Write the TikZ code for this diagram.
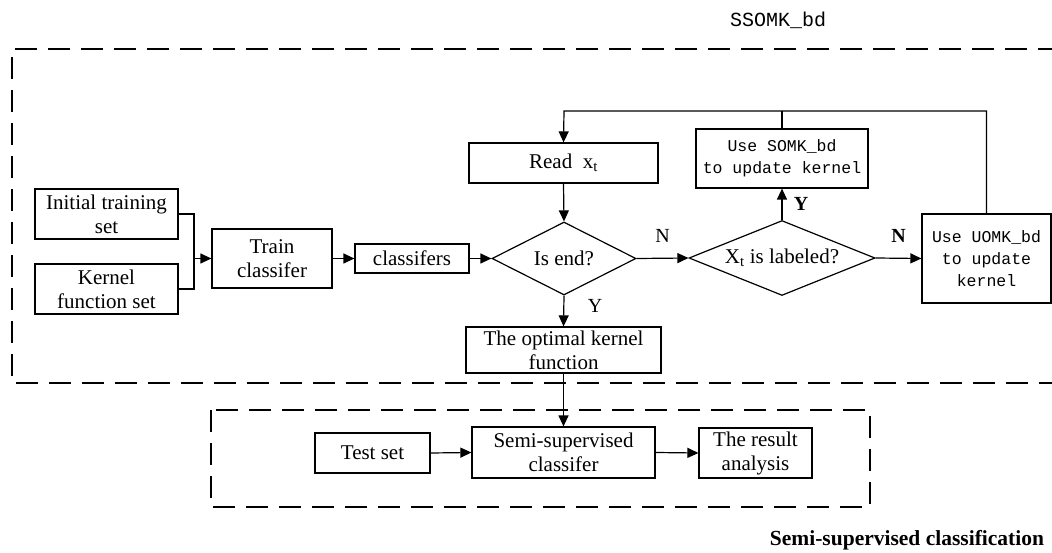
\documentclass[tikz,border=0pt]{standalone}
\usepackage{fontspec}
\setmainfont{Liberation Serif}
\setmonofont{Liberation Mono}
\usetikzlibrary{shapes.geometric,arrows.meta}
\begin{document}
\begin{tikzpicture}[x=1pt,y=-1pt,
  box/.style={draw,line width=1.2pt,inner sep=0pt,align=center,font=\fontsize{21}{24}\selectfont},
  mbox/.style={draw,line width=1.2pt,inner sep=0pt,align=center,font=\ttfamily\fontsize{16.5}{22}\selectfont},
  dia/.style={draw,line width=1.2pt,shape=diamond,inner sep=0pt,aspect=2,font=\fontsize{21}{24}\selectfont},
  conn/.style={line width=1.2pt},
  arr/.style={line width=1.2pt,-{Triangle[length=11pt,width=10pt]}},
  dbox/.style={line width=2.6pt,dash pattern=on 22pt off 11pt},
  lab/.style={font=\fontsize{20}{22}\selectfont},
  blab/.style={font=\bfseries\fontsize{20}{22}\selectfont}]
\useasboundingbox (0,0) rectangle (1052,553);
% dashed frames
\draw[dbox] (1060,49) -- (12,49) -- (12,383) -- (1060,383);
\draw[dbox] (211,410) rectangle (870,507);
\node[font=\ttfamily\fontsize{20}{22}\selectfont] (t1) at (778,20) {SSOMK\_bd};
\node[font=\bfseries\fontsize{21.5}{24}\selectfont] (t2) at (907,540) {Semi-supervised classification};
% nodes
\node[box,minimum width=143pt,minimum height=50pt] (init) at (106.5,214) {Initial training\\set};
\node[box,minimum width=143pt,minimum height=50pt] (kern) at (106.5,289) {Kernel\\function set};
\node[box,minimum width=120pt,minimum height=59pt] (train) at (272,258.5) {Train\\classifer};
\node[box,minimum width=114pt,minimum height=29pt] (cls) at (412,258.5) {classifers};
\node[dia,minimum width=144pt,minimum height=73pt] (isend) at (564,258.5) {Is end?};
\node[box,minimum width=189pt,minimum height=40pt] (read) at (563.5,163) {Read\ \ x\textsubscript{t}};
\node[mbox,minimum width=172pt,minimum height=59pt] (somk) at (782,158.5) {Use SOMK\_bd\\to update kernel};
\node[dia,minimum width=186pt,minimum height=58pt] (xt) at (782,258) {X\textsubscript{t} is labeled?};
\node[mbox,minimum width=129pt,minimum height=89pt] (uomk) at (986.5,258.5) {Use UOMK\_bd\\to update\\kernel};
\node[box,minimum width=195pt,minimum height=46pt] (opt) at (563.5,350) {The optimal kernel\\function};
\node[box,minimum width=115pt,minimum height=40pt] (test) at (372.5,453) {Test set};
\node[box,minimum width=183pt,minimum height=51pt] (semi) at (563.5,452.5) {Semi-supervised\\classifer};
\node[box,minimum width=113pt,minimum height=50pt] (res) at (755.5,453) {The result\\analysis};
% connectors
\coordinate (j1) at (194,258.5);
\coordinate (top) at (564,111);
\draw[conn] (init.east) -| (j1);
\draw[conn] (kern.east) -| (j1);
\draw[arr] (j1) -- (train.west);
\draw[arr] (train.east) -- (cls.west);
\draw[arr] (cls.east) -- (isend.west);
\draw[arr] (uomk.north) |- (top) -- (read.north);
\draw[conn] (somk.north) -- (somk.north |- top);
\draw[arr] (read.south) -- (isend.north);
\draw[arr] (isend.south) -- (opt.north) node[lab,pos=0.35,right=20pt] {Y};
\draw[arr] (isend.east) -- (xt.west) node[lab,midway,above=12pt] {N};
\draw[arr] (xt.north) -- (somk.south) node[blab,midway,right=8pt] {Y};
\draw[arr] (xt.east) -- (uomk.west) node[blab,midway,above=12pt] {N};
\draw[arr] (opt.south) -- (semi.north);
\draw[arr] (test.east) -- (semi.west);
\draw[arr] (semi.east) -- (res.west);
\end{tikzpicture}
\end{document}
